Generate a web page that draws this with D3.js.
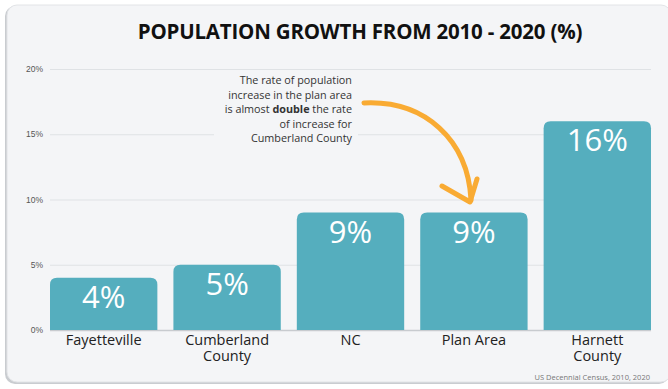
<!DOCTYPE html>
<html>
<head>
<meta charset="utf-8">
<script src="https://cdn.jsdelivr.net/npm/d3@7"></script>
<style>
  body { margin: 0; background: #fff; }
  svg { display: block; font-family: "Open Sans", sans-serif; }
</style>
</head>
<body>
<div id="chart"></div>
<script>
// data
var places = ["Fayetteville", "Cumberland County", "NC", "Plan Area", "Harnett County"]
var labelLines = [["Fayetteville"], ["Cumberland", "County"], ["NC"], ["Plan Area"], ["Harnett", "County"]]
var growth = [4, 5, 9, 9, 16]
var yTicks = [0, 5, 10, 15, 20]
var noteLines = ["The rate of population", "increase in the plan area", "is almost |double| the rate", "of increase for", "Cumberland County"]

const width = 668
const height = 389
const barColor = "#55aebe"

var svg = d3.select("#chart").append("svg")
    .attr("width", width)
    .attr("height", height)

// card background
svg.append("rect")
    .attr("x", 5).attr("y", 6).attr("width", 664).attr("height", 378)
    .attr("rx", 10).attr("fill", "#c9ccd0")
svg.append("rect")
    .attr("x", 7).attr("y", 5).attr("width", 664).attr("height", 377)
    .attr("rx", 10).attr("fill", "#f4f5f7").attr("stroke", "#e2e4e7")

// title
svg.append("text")
    .attr("x", 360).attr("y", 39)
    .attr("text-anchor", "middle")
    .attr("font-size", 20.5).attr("font-weight", 700)
    .attr("letter-spacing", -0.2)
    .attr("fill", "#111")
    .text("POPULATION GROWTH FROM 2010 - 2020 (%)")

//比例尺
var x = d3.scaleBand().domain(places).range([50, 651]).paddingInner(0.13).paddingOuter(0)
var y = d3.scaleLinear().domain([0, 20]).range([330, 69])

// grid
var yAxis = d3.axisLeft(y).tickValues(yTicks).tickFormat(d => d + "%").tickSize(-601).tickPadding(8)
var gy = svg.append("g").attr("transform", "translate(50,0)").call(yAxis)
gy.select(".domain").remove()
gy.selectAll(".tick line").attr("stroke", "#dfe2e5")
gy.selectAll(".tick text").attr("font-size", 8.5).attr("fill", "#555").attr("x", -7)
gy.selectAll(".tick").filter(d => d === 0).select("line").attr("stroke", "#c8cbcf").attr("stroke-width", 1.5)

// bars with rounded tops
function topRounded(x0, y0, w, h, r) {
    return `M${x0},${y0 + h}V${y0 + r}Q${x0},${y0} ${x0 + r},${y0}H${x0 + w - r}Q${x0 + w},${y0} ${x0 + w},${y0 + r}V${y0 + h}Z`
}
var rows = places.map((p, i) => ({place: p, value: growth[i], lines: labelLines[i]}))

svg.selectAll(".bar").data(rows).enter().append("path")
    .attr("class", "bar")
    .attr("fill", barColor)
    .attr("d", d => topRounded(x(d.place), y(d.value), x.bandwidth(), y(0) - y(d.value), 7))

svg.selectAll(".val").data(rows).enter().append("text")
    .attr("class", "val")
    .attr("x", d => x(d.place) + x.bandwidth() / 2)
    .attr("y", d => y(d.value) + 30)
    .attr("text-anchor", "middle")
    .attr("font-size", 31).attr("fill", "#fff")
    .text(d => d.value + "%")

// category labels, one text per line
var catLines = []
rows.forEach(d => d.lines.forEach((l, i) => catLines.push({l: l, i: i, cx: x(d.place) + x.bandwidth() / 2})))
svg.selectAll(".cat").data(catLines).enter().append("text")
    .attr("class", "cat")
    .attr("x", d => d.cx)
    .attr("y", d => 345 + d.i * 15.5)
    .attr("text-anchor", "middle")
    .attr("font-size", 14.5).attr("fill", "#222")
    .text(d => d.l)

// annotation
svg.append("rect")
    .attr("x", 214).attr("y", 72).attr("width", 144).attr("height", 76)
    .attr("fill", "#f4f5f7")
var note = svg.append("g").attr("font-size", 10.8).attr("fill", "#333").attr("text-anchor", "end")
noteLines.forEach(function(line, i) {
    var t = note.append("text").attr("x", 352).attr("y", 84 + i * 14.5)
    line.split("|").forEach(function(part, j) {
        t.append("tspan").attr("font-weight", j === 1 ? 700 : 400).text(part)
    })
})

// arrow
var arrow = svg.append("g").attr("fill", "none").attr("stroke", "#f9ab33")
    .attr("stroke-width", 5).attr("stroke-linecap", "round").attr("stroke-linejoin", "round")
arrow.append("path").attr("d", "M364,103 C425,100 468,140 471,200")
arrow.append("path").attr("d", "M442,186 L470,202 L477,179")

// source
svg.append("text")
    .attr("x", 650).attr("y", 380)
    .attr("text-anchor", "end")
    .attr("font-size", 7.5).attr("fill", "#777")
    .text("US Decennial Census, 2010, 2020")
</script>
</body>
</html>
